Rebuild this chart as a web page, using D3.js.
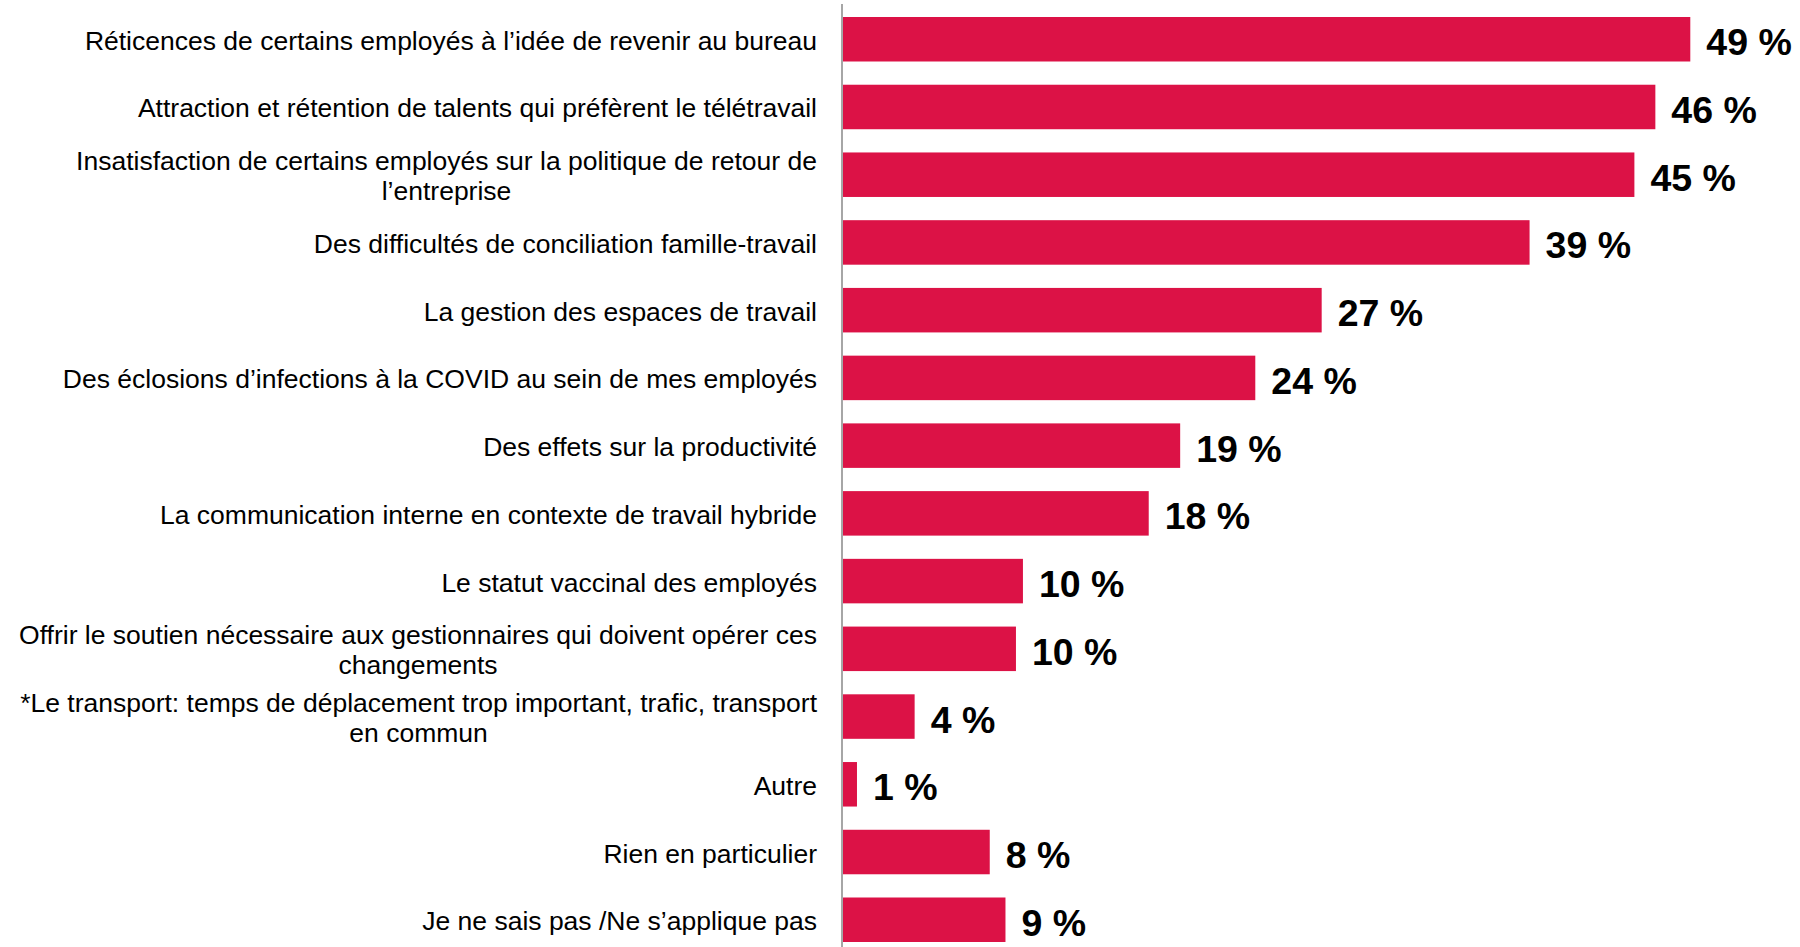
<!DOCTYPE html>
<html>
<head>
<meta charset="utf-8">
<script src="https://cdn.jsdelivr.net/npm/d3@7"></script>
<style>
  body { margin: 0; background: #fff; }
  text { font-family: "Liberation Sans", Arial, sans-serif; }
</style>
</head>
<body>
<div id="canvas"></div>
<script>
// categories, top to bottom ("\n" = line break as in the original)
const categories = [
  "Réticences de certains employés à l’idée de revenir au bureau",
  "Attraction et rétention de talents qui préfèrent le télétravail",
  "Insatisfaction de certains employés sur la politique de retour de\nl’entreprise",
  "Des difficultés de conciliation famille-travail",
  "La gestion des espaces de travail",
  "Des éclosions d’infections à la COVID au sein de mes employés",
  "Des effets sur la productivité",
  "La communication interne en contexte de travail hybride",
  "Le statut vaccinal des employés",
  "Offrir le soutien nécessaire aux gestionnaires qui doivent opérer ces\nchangements",
  "*Le transport: temps de déplacement trop important, trafic, transport\nen commun",
  "Autre",
  "Rien en particulier",
  "Je ne sais pas /Ne s’applique pas"
];
// bar lengths (%)
const values = [48.5, 46.5, 45.3, 39.3, 27.4, 23.6, 19.3, 17.5, 10.3, 9.9, 4.1, 0.8, 8.4, 9.3];
// printed labels
const shown = [49, 46, 45, 39, 27, 24, 19, 18, 10, 10, 4, 1, 8, 9];

const width = 1800;
const height = 947;
const x0 = 843;

const svg = d3.select("#canvas").append("svg")
  .attr("width", width).attr("height", height);

const y = d3.scaleBand()
  .domain(d3.range(categories.length))
  .range([17, 942])
  .paddingInner(0.343)
  .paddingOuter(0);

const x = d3.scaleLinear().domain([0, 50]).range([x0, x0 + 873.5]);

svg.selectAll("rect.bar")
  .data(values)
  .join("rect")
  .attr("class", "bar")
  .attr("x", x(0))
  .attr("y", (d, i) => y(i))
  .attr("width", d => x(d) - x(0))
  .attr("height", y.bandwidth())
  .attr("fill", "#DC1246");

// vertical axis line
svg.append("line")
  .attr("x1", 842).attr("x2", 842)
  .attr("y1", 4).attr("y2", height)
  .attr("stroke", "#A6A6A6").attr("stroke-width", 2);

// value labels
svg.selectAll("text.val")
  .data(values)
  .join("text")
  .attr("class", "val")
  .attr("x", d => x(d) + 16)
  .attr("y", (d, i) => y(i) + y.bandwidth() / 2 + 16)
  .attr("font-size", 37.5)
  .attr("font-weight", "bold")
  .attr("fill", "#000")
  .text((d, i) => shown[i] + " %");

// category labels
const right = 817;
const lab = svg.selectAll("g.cat")
  .data(categories)
  .join("g")
  .attr("class", "cat");

lab.each(function(d, i) {
  const lines = d.split("\n");
  const g = d3.select(this);
  const cy = y(i) + y.bandwidth() / 2;
  const t = g.append("text")
    .attr("font-size", 26.5)
    .attr("fill", "#000");
  if (lines.length === 1) {
    t.attr("text-anchor", "end").attr("x", right).attr("y", cy + 10.5).text(d);
  } else {
    const tmp = [];
    lines.forEach((ln, k) => {
      tmp.push(t.append("tspan")
        .attr("y", cy + 10 + (k - (lines.length - 1) / 2) * 30)
        .text(ln));
    });
    const maxW = d3.max(tmp, s => s.node().getComputedTextLength());
    t.attr("text-anchor", "middle");
    tmp.forEach(s => s.attr("x", right - maxW / 2));
  }
});
</script>
</body>
</html>
